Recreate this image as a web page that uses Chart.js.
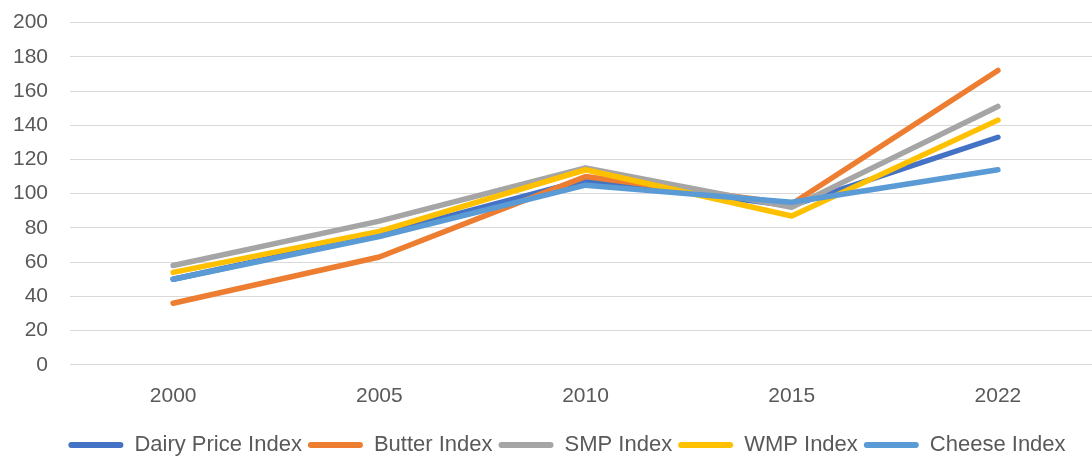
<!DOCTYPE html>
<html>
<head>
<meta charset="utf-8">
<script src="https://cdn.jsdelivr.net/npm/chart.js@4"></script>
<style>
  html, body { margin: 0; padding: 0; background: #fff; overflow: hidden; width: 1092px; height: 457px; position: relative; }
  #wrap { position: absolute; left: -9px; top: -12px; width: 1110px; height: 478px; }
</style>
</head>
<body>
<div id="wrap"><canvas id="chart"></canvas></div>
<script>
// data
let years = ["2000", "2005", "2010", "2015", "2022"];
let dairyIndex = [50, 76, 108, 93, 133];
let butterIndex = [36, 63, 110, 94, 172];
let smpIndex = [58, 84, 115, 92, 151];
let wmpIndex = [54, 78, 114, 87, 143];
let cheeseIndex = [50, 75, 105, 95, 114];
let yTicks = [0, 20, 40, 60, 80, 100, 120, 140, 160, 180, 200];

let seriesNames = ["Dairy Price Index", "Butter Index", "SMP Index", "WMP Index", "Cheese Index"];
let seriesData = [dairyIndex, butterIndex, smpIndex, wmpIndex, cheeseIndex];
let seriesColors = ["#4472C4", "#ED7D31", "#A5A5A5", "#FFC000", "#5B9BD5"];

let font = "'Liberation Sans', Arial, sans-serif";

// later series sit on top, like excel
let datasets = seriesNames.map((name, i) => ({
    label: name,
    data: seriesData[i],
    borderColor: seriesColors[i],
    backgroundColor: seriesColors[i],
    borderWidth: 5.5,
    borderCapStyle: 'round',
    borderJoinStyle: 'round',
    pointRadius: 0,
    tension: 0,
    order: seriesNames.length - i
}));

// nudge the legend right a bit, it sits off-centre in the original
const legendShift = {
    id: 'legendShift',
    afterLayout(chart) {
        chart.legend.left += 21;
        chart.legend.right += 21;
    }
};

const theChart = new Chart(document.getElementById("chart"), {
    type: 'line',
    data: { labels: years, datasets: datasets },
    plugins: [legendShift],
    options: {
        responsive: true,
        maintainAspectRatio: false,
        animation: false,
        scales: {
            x: {
                offset: true,
                grid: { display: false, drawTicks: false },
                border: { color: '#D9D9D9', width: 1 },
                ticks: { color: '#595959', padding: 19, font: { family: font, size: 21 } }
            },
            y: {
                min: 0,
                max: 200,
                afterBuildTicks: axis => { axis.ticks = yTicks.map(v => ({ value: v })) },
                grid: { color: '#D9D9D9', lineWidth: 1, drawTicks: false },
                border: { display: false },
                ticks: { color: '#595959', padding: 22, font: { family: font, size: 21 } }
            }
        },
        plugins: {
            tooltip: { enabled: false },
            legend: {
                position: 'bottom',
                labels: {
                    color: '#595959',
                    font: { family: font, size: 22 },
                    boxWidth: 55,
                    boxHeight: 6,
                    useBorderRadius: true,
                    borderRadius: 3,
                    padding: 6,
                    sort: (a, b) => a.datasetIndex - b.datasetIndex,
                    generateLabels: chart => {
                        let items = Chart.defaults.plugins.legend.labels.generateLabels(chart);
                        items.forEach(it => { it.lineWidth = 0 });
                        return items;
                    }
                }
            }
        }
    }
});
</script>
</body>
</html>
